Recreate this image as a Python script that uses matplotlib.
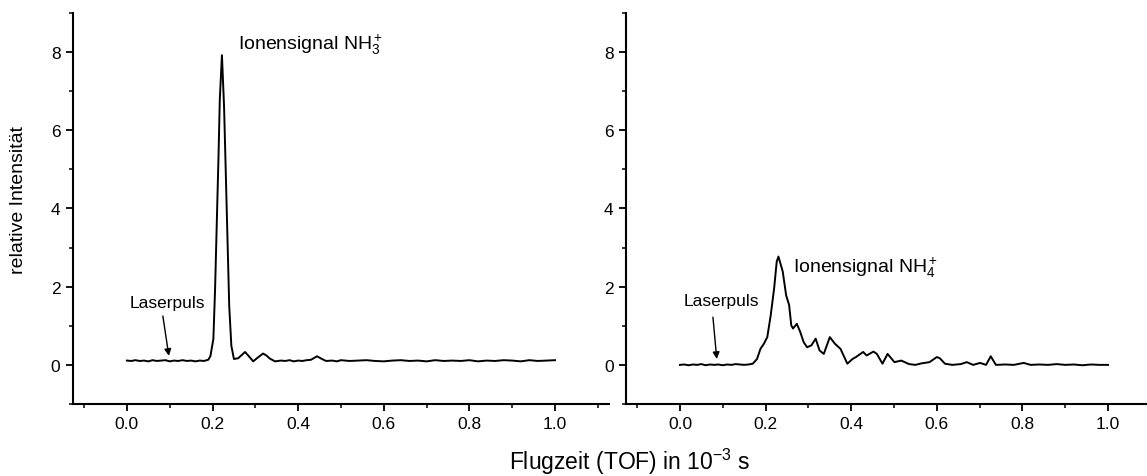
import matplotlib
matplotlib.use("Agg")
import matplotlib.pyplot as plt
from matplotlib.ticker import MultipleLocator

plt.rcParams['font.family'] = ['Liberation Sans', 'DejaVu Sans']
plt.rcParams['mathtext.fontset'] = 'custom'
plt.rcParams['mathtext.rm'] = 'Liberation Sans'
plt.rcParams['mathtext.it'] = 'Liberation Sans:italic'

# NH3+ Flugzeitspektrum (links)
nh3_x = [0.00, 0.01, 0.02, 0.03, 0.04, 0.05, 0.06, 0.07, 0.08, 0.09,
         0.10, 0.11, 0.12, 0.13, 0.14, 0.15, 0.16, 0.17, 0.18, 0.19,
         0.195, 0.202, 0.206, 0.210, 0.214, 0.217, 0.222, 0.227, 0.231,
         0.235, 0.239, 0.244, 0.250, 0.260, 0.268, 0.276, 0.285, 0.295,
         0.305, 0.318, 0.326, 0.334, 0.346, 0.36, 0.37, 0.38, 0.39, 0.40,
         0.41, 0.42, 0.43, 0.444, 0.454, 0.465, 0.48, 0.49, 0.50, 0.52,
         0.54, 0.56, 0.58, 0.60, 0.62, 0.64, 0.66, 0.68, 0.70, 0.72, 0.74,
         0.76, 0.78, 0.80, 0.82, 0.84, 0.86, 0.88, 0.90, 0.92, 0.94, 0.96,
         0.98, 1.00]
nh3_y = [0.11, 0.10, 0.12, 0.10, 0.11, 0.09, 0.12, 0.10, 0.11, 0.12,
         0.09, 0.11, 0.10, 0.12, 0.10, 0.11, 0.09, 0.11, 0.10, 0.13,
         0.22, 0.66, 1.94, 3.64, 5.33, 6.78, 7.92, 6.60, 4.91,
         3.21, 1.51, 0.49, 0.15, 0.17, 0.25, 0.33, 0.22, 0.09,
         0.18, 0.29, 0.24, 0.16, 0.09, 0.11, 0.10, 0.12, 0.09, 0.11,
         0.10, 0.12, 0.13, 0.22, 0.16, 0.10, 0.11, 0.09, 0.12, 0.10,
         0.11, 0.12, 0.10, 0.09, 0.11, 0.12, 0.10, 0.11, 0.09, 0.12, 0.10,
         0.11, 0.10, 0.12, 0.09, 0.11, 0.10, 0.12, 0.11, 0.09, 0.12, 0.10,
         0.11, 0.12]

# NH4+ Flugzeitspektrum (rechts)
nh4_x = [0.00, 0.01, 0.02, 0.03, 0.04, 0.05, 0.06, 0.07, 0.08, 0.09,
         0.10, 0.11, 0.12, 0.13, 0.14, 0.15, 0.16, 0.170, 0.180, 0.188,
         0.196, 0.204, 0.212, 0.220, 0.226, 0.230, 0.240, 0.248, 0.255,
         0.260, 0.264, 0.273, 0.281, 0.289, 0.297, 0.307, 0.317, 0.326,
         0.336, 0.350, 0.362, 0.375, 0.391, 0.403, 0.411, 0.428, 0.436,
         0.452, 0.460, 0.473, 0.485, 0.501, 0.517, 0.535, 0.550, 0.565,
         0.583, 0.600, 0.607, 0.619, 0.636, 0.656, 0.670, 0.685, 0.701,
         0.715, 0.726, 0.738, 0.76, 0.78, 0.803, 0.819, 0.84, 0.86, 0.88,
         0.90, 0.92, 0.94, 0.96, 0.98, 1.00]
nh4_y = [0.00, 0.01, -0.01, 0.01, 0.00, 0.02, -0.01, 0.01, 0.00, 0.01,
         -0.01, 0.01, 0.00, 0.02, 0.01, 0.00, 0.01, 0.03, 0.15, 0.41,
         0.54, 0.71, 1.27, 1.96, 2.64, 2.77, 2.39, 1.78, 1.53,
         1.01, 0.93, 1.05, 0.84, 0.58, 0.45, 0.50, 0.67, 0.37,
         0.28, 0.71, 0.54, 0.41, 0.03, 0.15, 0.20, 0.33, 0.24,
         0.34, 0.28, 0.03, 0.28, 0.07, 0.11, 0.02, 0.00, 0.04,
         0.07, 0.20, 0.17, 0.03, 0.00, 0.02, 0.07, 0.00, 0.05,
         0.00, 0.22, 0.00, 0.01, 0.00, 0.05, 0.00, 0.01, 0.00, 0.02,
         0.00, 0.01, -0.01, 0.01, 0.00, 0.00]

x_ticks = [0.0, 0.2, 0.4, 0.6, 0.8, 1.0]
y_ticks = [0, 2, 4, 6, 8]

fig = plt.figure(figsize=(11.47, 4.77), dpi=100)
ax1 = fig.add_axes([0.0636, 0.151, 0.4673, 0.8197])
ax2 = fig.add_axes([0.5458, 0.151, 0.4542, 0.8197])

panels = [
    (ax1, nh3_x, nh3_y, (-0.126, 1.126), r'Ionensignal NH$_3^+$', (0.26, 8.2),
     (0.007, 1.6), (0.084, 1.25), (0.098, 0.23)),
    (ax2, nh4_x, nh4_y, (-0.126, 1.091), r'Ionensignal NH$_4^+$', (0.264, 2.5),
     (0.009, 1.65), (0.077, 1.22), (0.086, 0.15)),
]

for ax, xs, ys, xl, label, lpos, tpos, a0, a1 in panels:
    ax.plot(xs, ys, color='black', lw=1.4)
    ax.set_xlim(*xl)
    ax.set_ylim(-1, 9)
    ax.set_xticks(x_ticks)
    ax.set_xticklabels(['%.1f' % v for v in x_ticks])
    ax.set_yticks(y_ticks)
    ax.xaxis.set_minor_locator(MultipleLocator(0.1))
    ax.yaxis.set_minor_locator(MultipleLocator(1))
    for side in ['top', 'right']:
        ax.spines[side].set_visible(False)
    for side in ['left', 'bottom']:
        ax.spines[side].set_linewidth(1.5)
    ax.tick_params(which='major', direction='out', length=5, width=1.3,
                   labelsize=12.5, pad=4)
    ax.tick_params(which='minor', direction='out', length=3, width=1.1)
    ax.text(lpos[0], lpos[1], label, fontsize=14, ha='left', va='center')
    ax.text(tpos[0], tpos[1], 'Laserpuls', fontsize=12.5, ha='left', va='center')
    ax.annotate('', xy=a1, xytext=a0,
                arrowprops=dict(arrowstyle='-|>', color='black', lw=1.0,
                                mutation_scale=10, shrinkA=0, shrinkB=0))

ax1.set_ylabel('relative Intensität', fontsize=14)
ax1.yaxis.set_label_coords(-0.085, 0.525)
fig.text(0.549, 0.031, r'Flugzeit (TOF) in 10$^{-3}$ s', fontsize=16.5,
         ha='center', va='center')

fig.savefig('out.png', dpi=100)
